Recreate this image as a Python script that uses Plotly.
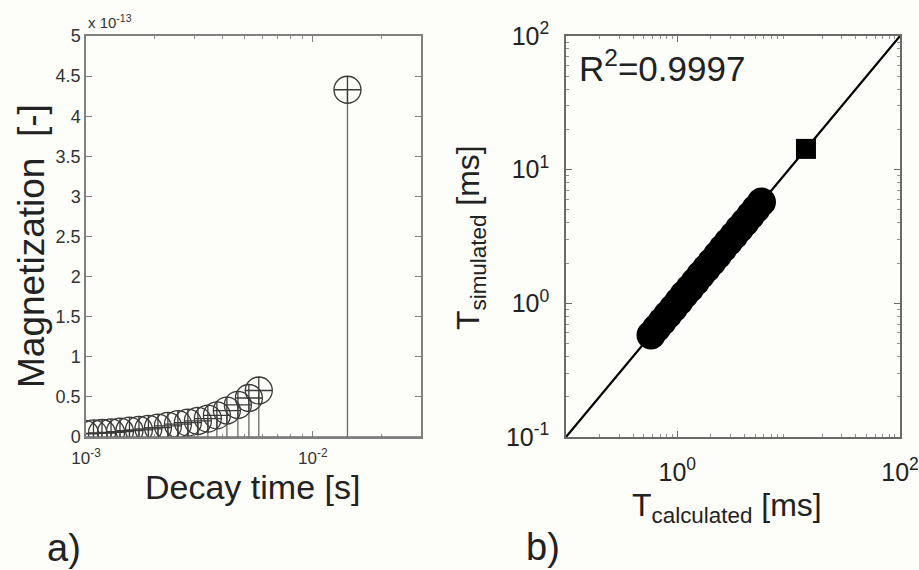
import plotly.graph_objects as go

# ---------------- data ----------------
# panel a) : stem plot of magnetization vs decay time
decay_time_s = [0.990e-3, 1.079e-3, 1.176e-3, 1.289e-3, 1.412e-3, 1.555e-3, 1.712e-3,
                1.885e-3, 2.076e-3, 2.297e-3, 2.543e-3, 2.814e-3, 3.114e-3, 3.446e-3,
                3.777e-3, 4.180e-3, 4.674e-3, 5.226e-3, 5.780e-3, 1.422e-2]
magnetization_e13 = [0.040, 0.045, 0.050, 0.058, 0.068, 0.080, 0.090, 0.102, 0.118,
                     0.138, 0.160, 0.180, 0.200, 0.230, 0.270, 0.330, 0.400, 0.486,
                     0.580, 4.330]
y_ticks_a = [0, 0.5, 1, 1.5, 2, 2.5, 3, 3.5, 4, 4.5, 5]
y_ticklabels_a = ["0", "0.5", "1", "1.5", "2", "2.5", "3", "3.5", "4", "4.5", "5"]
x_ticks_a = [1e-3, 1e-2]
x_ticklabels_a = ["10<sup>-3</sup>", "10<sup>-2</sup>"]

# panel b) : simulated vs calculated time constants
t_calculated_ms = [0.58, 0.65, 0.73, 0.82, 0.92, 1.03, 1.15, 1.29, 1.45, 1.62, 1.82,
                   2.04, 2.29, 2.56, 2.87, 3.22, 3.61, 4.05, 4.54, 5.09, 5.70]
t_simulated_ms = [0.58, 0.65, 0.73, 0.82, 0.92, 1.03, 1.16, 1.29, 1.45, 1.63, 1.82,
                  2.04, 2.29, 2.57, 2.88, 3.22, 3.61, 4.05, 4.55, 5.10, 5.72]
square_calc_ms = [14.3]
square_sim_ms = [14.3]
identity_line = [0.1, 100]
y_ticks_b = [0.1, 1, 10, 100]
y_ticklabels_b = ["10<sup>-1</sup>", "10<sup>0</sup>", "10<sup>1</sup>", "10<sup>2</sup>"]
x_ticks_b = [1, 100]
x_ticklabels_b = ["10<sup>0</sup>", "10<sup>2</sup>"]
r2_text = "R<sup>2</sup>=0.9997"

FONT = "Liberation Sans, Arial, Helvetica, sans-serif"
BG = "#fdfdf9"

fig = go.Figure()

# stems for panel a
stem_x, stem_y = [], []
for t, m in zip(decay_time_s, magnetization_e13):
    stem_x += [t, t, None]
    stem_y += [0, m, None]
fig.add_trace(go.Scatter(x=stem_x, y=stem_y, mode="lines",
                         line=dict(color="#6a6a6a", width=1.3),
                         xaxis="x", yaxis="y", showlegend=False, hoverinfo="skip"))
fig.add_trace(go.Scatter(x=decay_time_s, y=magnetization_e13, mode="markers",
                         marker=dict(symbol="circle-cross-open", size=27,
                                     color="#3a3a3a", line=dict(color="#3a3a3a", width=1.3)),
                         xaxis="x", yaxis="y", showlegend=False))

# panel b
fig.add_trace(go.Scatter(x=identity_line, y=identity_line, mode="lines",
                         line=dict(color="black", width=2.2),
                         xaxis="x2", yaxis="y2", showlegend=False))
fig.add_trace(go.Scatter(x=t_calculated_ms, y=t_simulated_ms, mode="markers",
                         marker=dict(symbol="circle", size=29, color="black",
                                     line=dict(width=0)),
                         xaxis="x2", yaxis="y2", showlegend=False))
fig.add_trace(go.Scatter(x=square_calc_ms, y=square_sim_ms, mode="markers",
                         marker=dict(symbol="square", size=20, color="black",
                                     line=dict(width=0)),
                         xaxis="x2", yaxis="y2", showlegend=False))

minor_a = [k * 10 ** d for d in (-3, -2) for k in range(2, 10) if k * 10 ** d < 0.03]
minor_b = [k * 10 ** d for d in (-1, 0, 1) for k in range(2, 10)]

axis_a = dict(showgrid=False, zeroline=False, showline=True, mirror="ticks",
              linecolor="#808080", linewidth=1.5, ticks="inside", tickcolor="#808080",
              ticklen=6, tickwidth=1.2, automargin=False)
axis_b = dict(showgrid=False, zeroline=False, showline=True, mirror="ticks",
              linecolor="#6a6a6a", linewidth=1.5, ticks="inside", tickcolor="#6a6a6a",
              ticklen=6, tickwidth=1.2, automargin=False)

fig.update_layout(
    width=919, height=570, margin=dict(l=0, r=0, t=0, b=0),
    paper_bgcolor=BG, plot_bgcolor=BG,
    font=dict(family=FONT, color="#222"),
    xaxis=dict(axis_a, type="log", domain=[86 / 919, 421 / 919],
               range=[-3, -1.5229], tickmode="array", tickvals=x_ticks_a,
               ticktext=x_ticklabels_a, tickfont=dict(size=17, color="#333"),
               ticklabelstandoff=5,
               minor=dict(tickmode="array", tickvals=minor_a, ticks="inside",
                          ticklen=3, tickcolor="#909090", showgrid=False),
               anchor="y"),
    yaxis=dict(axis_a, domain=[1 - 437 / 570, 1 - 36 / 570], range=[0, 5],
               tickmode="array", tickvals=y_ticks_a, ticktext=y_ticklabels_a,
               tickfont=dict(size=18, color="#333"), anchor="x"),
    xaxis2=dict(axis_b, type="log", domain=[566 / 919, 900 / 919], range=[-1, 2],
                tickmode="array", tickvals=x_ticks_b, ticktext=x_ticklabels_b,
                tickfont=dict(size=25, color="#222"), ticklabelstandoff=12,
                minor=dict(tickmode="array", tickvals=minor_b, ticks="inside",
                           ticklen=3, tickcolor="#909090", showgrid=False),
                anchor="y2"),
    yaxis2=dict(axis_b, type="log", domain=[1 - 437 / 570, 1 - 36 / 570], range=[-1, 2],
                tickmode="array", tickvals=y_ticks_b, ticktext=y_ticklabels_b,
                tickfont=dict(size=25, color="#222"), ticklabelstandoff=10,
                minor=dict(tickmode="array", tickvals=minor_b, ticks="inside",
                           ticklen=3, tickcolor="#909090", showgrid=False),
                anchor="x2"),
    shapes=[dict(type="line", xref="x domain", yref="y", x0=0, x1=1, y0=0, y1=0,
                 line=dict(color="#6a6a6a", width=1.3))],
)

ann = [
    dict(text="x 10<sup>-13</sup>", x=86, y=21, font=dict(size=15, color="#333"),
         xanchor="left"),
    dict(text="Magnetization  [-]", x=31, y=246, font=dict(size=37), textangle=-90),
    dict(text="Decay time [s]", x=252, y=487, font=dict(size=34)),
    dict(text="a)", x=64, y=548, font=dict(size=38)),
    dict(text=r2_text, x=662, y=66, font=dict(size=35)),
    dict(text="T<sub>simulated</sub> [ms]", x=471, y=238, font=dict(size=32),
         textangle=-90),
    dict(text="T<sub>calculated</sub> [ms]", x=727, y=507, font=dict(size=32)),
    dict(text="b)", x=543, y=547, font=dict(size=38)),
]
for a in ann:
    px, py = a.pop("x"), a.pop("y")
    fig.add_annotation(x=px / 919, y=1 - py / 570, xref="paper", yref="paper",
                       showarrow=False, yanchor="middle",
                       xanchor=a.pop("xanchor", "center"), **a)

fig.write_html("out.html")
